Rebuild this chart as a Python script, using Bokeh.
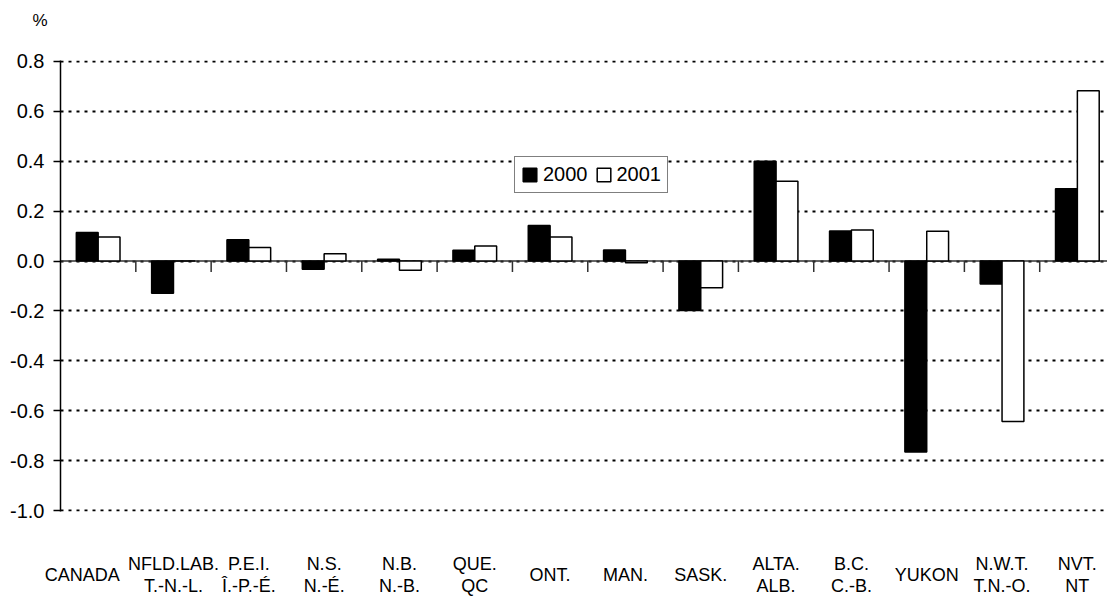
from bokeh.plotting import figure
from bokeh.models import (Range1d, FixedTicker, NumeralTickFormatter, Legend, LegendItem,
                          LinearAxis, ColumnDataSource, Span, Title)
from bokeh.transform import dodge
from bokeh.embed import file_html
from bokeh.resources import INLINE

categories = ["CANADA", "NFLD.LAB.\nT.-N.-L.", "P.E.I.\nÎ.-P.-É.", "N.S.\nN.-É.", "N.B.\nN.-B.",
              "QUE.\nQC", "ONT.", "MAN.", "SASK.", "ALTA.\nALB.", "B.C.\nC.-B.", "YUKON",
              "N.W.T.\nT.N.-O.", "NVT.\nNT"]
y2000 = [0.114, -0.129, 0.085, -0.033, 0.007, 0.043, 0.143, 0.044, -0.198, 0.400, 0.120, -0.765, -0.092, 0.290]
y2001 = [0.096, 0.0, 0.054, 0.029, -0.037, 0.060, 0.096, -0.007, -0.107, 0.320, 0.124, 0.119, -0.643, 0.683]
y_ticks = [-1.0, -0.8, -0.6, -0.4, -0.2, 0.0, 0.2, 0.4, 0.6, 0.8]
series_names = ["2000", "2001"]
unit_label = "%"

FONT = "Liberation Sans"
n = len(categories)
xs = list(range(n))
src = ColumnDataSource(dict(x=xs, y2000=y2000, y2001=y2001))

p = figure(width=1107, height=599, x_range=Range1d(-0.5, 13.4), y_range=Range1d(-1.004, 0.804),
           output_backend="svg", toolbar_location=None,
           min_border_left=60, min_border_right=0, min_border_top=60, min_border_bottom=88)
p.outline_line_color = None
p.background_fill_color = "white"
p.border_fill_color = "white"

# unit label above the axis (second empty line lifts it towards the top edge)
p.title = Title(text=unit_label + "\n", align="left", offset=-28, standoff=20, vertical_align="top",
                text_font=FONT, text_font_size="17px", text_font_style="normal",
                text_color="black")

# grid
p.xgrid.grid_line_color = None
p.ygrid.ticker = FixedTicker(ticks=y_ticks)
p.ygrid.grid_line_color = "black"
p.ygrid.grid_line_width = 2
p.ygrid.grid_line_dash = "3 5"

# y axis
p.yaxis.ticker = FixedTicker(ticks=y_ticks)
p.yaxis.formatter = NumeralTickFormatter(format="0.0")
p.yaxis.major_tick_out = 7
p.yaxis.major_tick_in = 0
p.yaxis.minor_tick_line_color = None
p.yaxis.axis_line_color = "black"
p.yaxis.axis_line_width = 1.5
p.yaxis.major_tick_line_color = "black"
p.yaxis.major_tick_line_width = 1.5
p.yaxis.major_label_standoff = 9
p.yaxis.major_label_text_font = FONT
p.yaxis.major_label_text_font_size = "20px"
p.yaxis.major_label_text_color = "black"

# x axes: single-line names nearest the frame, two-line names on a second axis
label_nudge = {0: -0.21}   # CANADA label sits left of its group, as in the original
single = [i for i, c in enumerate(categories) if "\n" not in c]
double = [i for i, c in enumerate(categories) if "\n" in c]


def style_cat_axis(ax, idx, standoff):
    pos = [i + label_nudge.get(i, 0) for i in idx]
    ax.ticker = FixedTicker(ticks=pos)
    ax.major_label_overrides = {x: categories[i] for x, i in zip(pos, idx)}
    ax.axis_line_color = None
    ax.major_tick_line_color = None
    ax.minor_tick_line_color = None
    ax.major_tick_out = 0
    ax.major_tick_in = 0
    ax.major_label_text_font = FONT
    ax.major_label_text_font_size = "18px"
    ax.major_label_text_color = "black"
    ax.major_label_text_line_height = 1.1
    ax.major_label_standoff = standoff


style_cat_axis(p.xaxis[0], single, 53)
ax2 = LinearAxis()
style_cat_axis(ax2, double, -34)
p.add_layout(ax2, "below")

# zero line with group separators
zero = Span(location=0, dimension="width", line_color="#303030", line_width=1.5, level="underlay")
p.add_layout(zero)
bounds = [i + 0.5 for i in range(n - 1)]
p.segment(x0=bounds, y0=[0] * len(bounds), x1=bounds, y1=[-0.044] * len(bounds),
          line_color="#303030", line_width=1.5)

bw = 0.29
r1 = p.vbar(x=dodge("x", -bw / 2), top="y2000", bottom=0, width=bw, source=src,
            fill_color="black", line_color="black", line_width=1.5)
r2 = p.vbar(x=dodge("x", bw / 2), top="y2001", bottom=0, width=bw, source=src,
            fill_color="white", line_color="black", line_width=1.5)

legend = Legend(items=[LegendItem(label=series_names[0], renderers=[r1]),
                       LegendItem(label=series_names[1], renderers=[r2])],
                location=(454, 318), orientation="horizontal",
                label_text_font=FONT, label_text_font_size="20px", label_text_color="black",
                glyph_width=17, glyph_height=17, label_standoff=5, spacing=7,
                padding=6, margin=0, label_height=20,
                border_line_color="black", border_line_width=1.5,
                background_fill_color="white", background_fill_alpha=1.0)
p.add_layout(legend)

open("out.html", "w").write(file_html(p, INLINE))
